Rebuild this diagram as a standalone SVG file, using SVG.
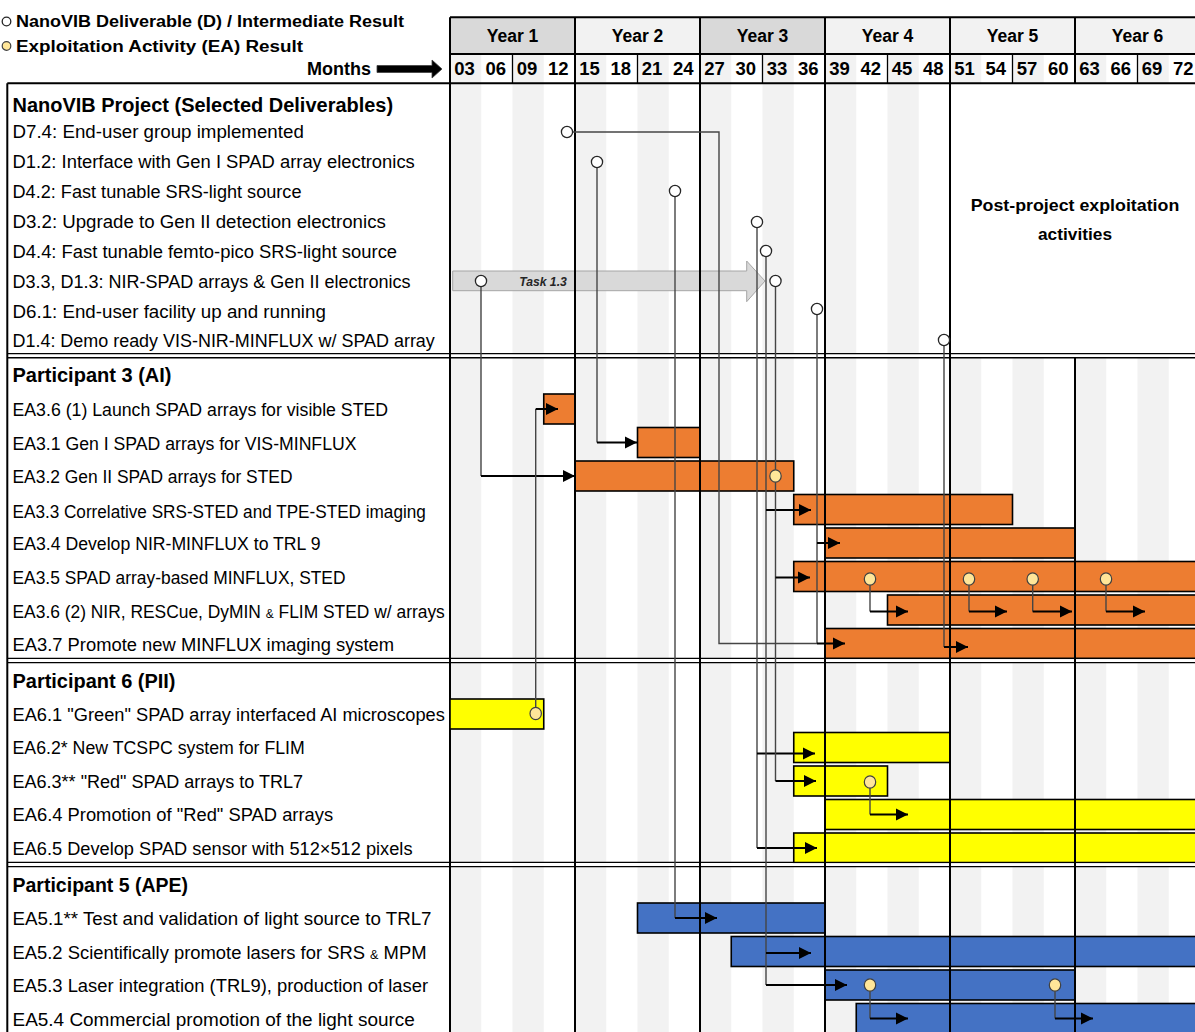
<svg xmlns="http://www.w3.org/2000/svg" width="1195" height="1032" viewBox="0 0 1195 1032">
<defs>
<style>
text{font-family:"Liberation Sans",Arial,sans-serif;fill:#000}
.lbl{font-size:17.5px}
.hdr{font-size:20px;font-weight:bold}
.yr{font-size:17.5px;font-weight:bold;text-anchor:middle}
.mo{font-size:18.5px;font-weight:bold;text-anchor:middle}
.leg{font-size:16px;font-weight:bold}
.pp{font-size:17px;font-weight:bold;text-anchor:middle}
.st{fill:#f2f2f2}
.dk{fill:#d9d9d9}
.grid{stroke:#000;stroke-width:2;fill:none}
.thin{stroke:#000;stroke-width:1.3;fill:none}
.dbl{stroke:#000;stroke-width:1.4;fill:none}
.bar{stroke:#000;stroke-width:1.6}
.or{fill:#ed7d31}
.ye{fill:#ffff00}
.bl{fill:#4472c4}
.cv{stroke:#454545;stroke-width:1.4;fill:none}
.ca{stroke:#000;stroke-width:2;fill:none;marker-end:url(#ah)}
.dc{fill:#fff;stroke:#262626;stroke-width:1.3}
.yc{fill:#ffe699;stroke:#404040;stroke-width:1.2}
.sm{font-size:12px}
</style>
<marker id="ah" markerUnits="userSpaceOnUse" markerWidth="14" markerHeight="14" viewBox="0 0 14 14" refX="12.5" refY="7" orient="auto"><path d="M0.5,1 L12.5,7 L0.5,13 Z" fill="#000"/></marker>
</defs>
<rect x="0" y="0" width="1195" height="1032" fill="#fff"/>

<g id="legend">
<circle class="dc" cx="6.5" cy="21.5" r="4.3"/>
<text class="leg" x="16" y="27.3" textLength="388" lengthAdjust="spacingAndGlyphs">NanoVIB Deliverable (D) / Intermediate Result</text>
<circle class="yc" cx="6.5" cy="46" r="4.3"/>
<text class="leg" x="16" y="51.8" textLength="287" lengthAdjust="spacingAndGlyphs">Exploitation Activity (EA) Result</text>
</g>

<g id="header">
<rect x="450" y="17.3" width="125" height="36.7" class="dk"/>
<rect x="575" y="17.3" width="125" height="36.7" class="st"/>
<rect x="700" y="17.3" width="125" height="36.7" class="dk"/>
<rect x="825" y="17.3" width="125" height="36.7" class="st"/>
<rect x="950" y="17.3" width="125" height="36.7" class="st"/>
<rect x="1075" y="17.3" width="125" height="36.7" class="st"/>
<g class="st">
<rect x="450" y="54" width="31.25" height="29.3"/><rect x="512.5" y="54" width="31.25" height="29.3"/>
<rect x="575" y="54" width="31.25" height="29.3"/><rect x="637.5" y="54" width="31.25" height="29.3"/>
<rect x="700" y="54" width="31.25" height="29.3"/><rect x="762.5" y="54" width="31.25" height="29.3"/>
<rect x="825" y="54" width="31.25" height="29.3"/><rect x="887.5" y="54" width="31.25" height="29.3"/>
<rect x="950" y="54" width="31.25" height="29.3"/><rect x="1012.5" y="54" width="31.25" height="29.3"/>
<rect x="1075" y="54" width="31.25" height="29.3"/><rect x="1137.5" y="54" width="31.25" height="29.3"/>
</g>
<text class="yr" x="512.5" y="41.5">Year 1</text>
<text class="yr" x="637.5" y="41.5">Year 2</text>
<text class="yr" x="762.5" y="41.5">Year 3</text>
<text class="yr" x="887.5" y="41.5">Year 4</text>
<text class="yr" x="1012.5" y="41.5">Year 5</text>
<text class="yr" x="1137.5" y="41.5">Year 6</text>
<text class="mo" x="464.6" y="75">03</text><text class="mo" x="495.8" y="75">06</text>
<text class="mo" x="527.1" y="75">09</text><text class="mo" x="558.3" y="75">12</text>
<text class="mo" x="589.6" y="75">15</text><text class="mo" x="620.8" y="75">18</text>
<text class="mo" x="652.1" y="75">21</text><text class="mo" x="683.3" y="75">24</text>
<text class="mo" x="714.6" y="75">27</text><text class="mo" x="745.8" y="75">30</text>
<text class="mo" x="777.1" y="75">33</text><text class="mo" x="808.3" y="75">36</text>
<text class="mo" x="839.6" y="75">39</text><text class="mo" x="870.8" y="75">42</text>
<text class="mo" x="902.1" y="75">45</text><text class="mo" x="933.3" y="75">48</text>
<text class="mo" x="964.6" y="75">51</text><text class="mo" x="995.8" y="75">54</text>
<text class="mo" x="1027.1" y="75">57</text><text class="mo" x="1058.3" y="75">60</text>
<text class="mo" x="1089.6" y="75">63</text><text class="mo" x="1120.8" y="75">66</text>
<text class="mo" x="1152.1" y="75">69</text><text class="mo" x="1183.3" y="75">72</text>
<text x="371" y="75" style="font-size:17.5px;font-weight:bold;text-anchor:end" textLength="64" lengthAdjust="spacingAndGlyphs">Months</text>
<polygon points="377,65.5 432,65.5 432,60 442,69 432,78 432,72.5 377,72.5" fill="#000" stroke="#404040" stroke-width="0.8"/>
</g>

<g id="stripes" class="st">
<rect x="450" y="83.3" width="31.25" height="948.7"/>
<rect x="512.5" y="83.3" width="31.25" height="948.7"/>
<rect x="575" y="83.3" width="31.25" height="948.7"/>
<rect x="637.5" y="83.3" width="31.25" height="948.7"/>
<rect x="700" y="83.3" width="31.25" height="948.7"/>
<rect x="762.5" y="83.3" width="31.25" height="948.7"/>
<rect x="825" y="83.3" width="31.25" height="948.7"/>
<rect x="887.5" y="83.3" width="31.25" height="948.7"/>
<rect x="950" y="357.8" width="31.25" height="674.2"/>
<rect x="1012.5" y="357.8" width="31.25" height="674.2"/>
<rect x="1075" y="357.8" width="31.25" height="674.2"/>
<rect x="1137.5" y="357.8" width="31.25" height="674.2"/>
</g>

<g id="task-1-3">
<polygon points="452.7,271 746.7,271 746.7,261 765,281 746.7,301.7 746.7,290.7 452.7,290.7" fill="#d9d9d9" stroke="#a6a6a6" stroke-width="1"/>
<text x="543" y="285.5" style="font-size:12.5px;font-weight:bold;font-style:italic;fill:#262626;text-anchor:middle" textLength="47.7" lengthAdjust="spacingAndGlyphs">Task 1.3</text>
</g>

<g id="postproject">
<text class="pp" x="1075" y="211" textLength="208.6" lengthAdjust="spacingAndGlyphs">Post-project exploitation</text>
<text class="pp" x="1075" y="239.5" textLength="74" lengthAdjust="spacingAndGlyphs">activities</text>
</g>

<g id="p3-header"><text class="hdr" x="12.5" y="382" textLength="159" lengthAdjust="spacingAndGlyphs">Participant 3 (AI)</text></g>
<g id="ea3-6a"><rect class="bar or" x="543.75" y="394" width="31.25" height="30"/><text class="lbl" x="12.5" y="416" textLength="375.6" lengthAdjust="spacingAndGlyphs">EA3.6 (1) Launch SPAD arrays for visible STED</text></g>
<g id="ea3-1"><rect class="bar or" x="637.5" y="427.5" width="62.5" height="30"/><text class="lbl" x="12.5" y="450" textLength="344" lengthAdjust="spacingAndGlyphs">EA3.1 Gen I SPAD arrays for VIS-MINFLUX</text></g>
<g id="ea3-2"><rect class="bar or" x="575" y="461" width="218.75" height="30"/><text class="lbl" x="12.5" y="483.3" textLength="280" lengthAdjust="spacingAndGlyphs">EA3.2 Gen II SPAD arrays for STED</text></g>
<g id="ea3-3"><rect class="bar or" x="793.75" y="494.5" width="218.75" height="30"/><text class="lbl" x="12.5" y="517.7" textLength="413.3" lengthAdjust="spacingAndGlyphs">EA3.3 Correlative SRS-STED and TPE-STED imaging</text></g>
<g id="ea3-4"><rect class="bar or" x="825" y="528" width="250" height="30"/><text class="lbl" x="12.5" y="550" textLength="308" lengthAdjust="spacingAndGlyphs">EA3.4 Develop NIR-MINFLUX to TRL 9</text></g>
<g id="ea3-5"><rect class="bar or" x="793.75" y="561.5" width="410" height="30"/><text class="lbl" x="12.5" y="584.3" textLength="333" lengthAdjust="spacingAndGlyphs">EA3.5 SPAD array-based MINFLUX, STED</text></g>
<g id="ea3-6b"><rect class="bar or" x="887.5" y="595" width="320" height="30"/><text class="lbl" x="12.5" y="617.7" textLength="432.3" lengthAdjust="spacingAndGlyphs">EA3.6 (2) NIR, RESCue, DyMIN <tspan class="sm">&amp;</tspan> FLIM STED w/ arrays</text></g>
<g id="ea3-7"><rect class="bar or" x="825" y="628.5" width="380" height="30"/><text class="lbl" x="12.5" y="651" textLength="381.6" lengthAdjust="spacingAndGlyphs">EA3.7 Promote new MINFLUX imaging system</text></g>

<g id="p6-header"><text class="hdr" x="12.5" y="688" textLength="163" lengthAdjust="spacingAndGlyphs">Participant 6 (PII)</text></g>
<g id="ea6-2"><rect class="bar ye" x="793.75" y="732.5" width="156.25" height="30"/><text class="lbl" x="12.5" y="754.3" textLength="292.3" lengthAdjust="spacingAndGlyphs">EA6.2* New TCSPC system for FLIM</text></g>
<g id="ea6-3"><rect class="bar ye" x="793.75" y="766" width="93.75" height="30"/><text class="lbl" x="12.5" y="787.7" textLength="290.6" lengthAdjust="spacingAndGlyphs">EA6.3** "Red" SPAD arrays to TRL7</text></g>
<g id="ea6-4"><rect class="bar ye" x="825" y="799.5" width="380" height="30"/><text class="lbl" x="12.5" y="821" textLength="320.6" lengthAdjust="spacingAndGlyphs">EA6.4 Promotion of "Red" SPAD arrays</text></g>
<g id="ea6-5"><rect class="bar ye" x="793.75" y="833" width="410" height="30"/><text class="lbl" x="12.5" y="855" textLength="400" lengthAdjust="spacingAndGlyphs">EA6.5 Develop SPAD sensor with 512×512 pixels</text></g>

<g id="p5-header"><text class="hdr" x="12.5" y="892" textLength="175.6" lengthAdjust="spacingAndGlyphs">Participant 5 (APE)</text></g>
<g id="ea5-1"><rect class="bar bl" x="637.5" y="903" width="187.5" height="30"/><text class="lbl" x="12.5" y="925.3" textLength="419" lengthAdjust="spacingAndGlyphs">EA5.1** Test and validation of light source to TRL7</text></g>
<g id="ea5-2"><rect class="bar bl" x="731.25" y="936.5" width="470" height="30"/><text class="lbl" x="12.5" y="958.7" textLength="414" lengthAdjust="spacingAndGlyphs">EA5.2 Scientifically promote lasers for SRS <tspan class="sm">&amp;</tspan> MPM</text></g>
<g id="ea5-3"><rect class="bar bl" x="825" y="970" width="250" height="30"/><text class="lbl" x="12.5" y="992" textLength="415.6" lengthAdjust="spacingAndGlyphs">EA5.3 Laser integration (TRL9), production of laser</text></g>
<g id="ea5-4"><rect class="bar bl" x="856.25" y="1003.5" width="345" height="30"/><text class="lbl" x="12.5" y="1026" textLength="402.3" lengthAdjust="spacingAndGlyphs">EA5.4 Commercial promotion of the light source</text></g>

<g id="grid">
<g fill="#fff">
<rect x="7.3" y="354.3" width="1188" height="2.8"/>
<rect x="7.3" y="659.1" width="1188" height="2.8"/>
<rect x="7.3" y="863.1" width="1188" height="2.8"/>
</g>
<path class="grid" d="M450,17.3 H1195 M450,54 H1195 M7.3,83.3 H1195 M7.3,83.3 V1032 M450,17.3 V1032 M575,17.3 V1032 M700,17.3 V1032 M825,17.3 V1032 M950,17.3 V1032 M1075,17.3 V83.3 M1075,357.8 V1032"/>
<path class="thin" d="M512.5,54 V83.3 M637.5,54 V83.3 M762.5,54 V83.3 M887.5,54 V83.3 M1012.5,54 V83.3 M1137.5,54 V83.3"/>
<path class="dbl" d="M7.3,353.6 H1195 M7.3,357.8 H1195 M7.3,658.4 H1195 M7.3,662.6 H1195 M7.3,862.4 H1195 M7.3,866.6 H1195"/>
</g>

<g id="ea6-1"><rect class="bar ye" x="450" y="699" width="93.75" height="30"/><text class="lbl" x="12.5" y="721" textLength="432.3" lengthAdjust="spacingAndGlyphs">EA6.1 "Green" SPAD array interfaced AI microscopes</text></g>

<g id="connectors">
<path class="cv" d="M572.6,132 H719 V643.5 H817"/>
<path class="cv" d="M817,314.6 V643.5"/>
<path class="ca" d="M817,543 H840"/>
<path class="ca" d="M817,643.5 H845"/>
<path class="cv" d="M597,167.6 V442.5"/>
<path class="ca" d="M597,442.5 H637"/>
<path class="cv" d="M675,196.6 V918"/>
<path class="ca" d="M675,918 H717"/>
<path class="cv" d="M481,286.6 V476"/>
<path class="ca" d="M481,476 H575"/>
<path class="cv" d="M757,227.6 V848"/>
<path class="ca" d="M757,753.5 H815"/>
<path class="ca" d="M757,848 H817"/>
<path class="cv" d="M766,256.6 V985"/>
<path class="ca" d="M766,510 H811"/>
<path class="ca" d="M766,953 H811"/>
<path class="ca" d="M766,985 H847"/>
<path class="cv" d="M775.5,286.6 V781"/>
<path class="ca" d="M775.5,577.5 H810"/>
<path class="ca" d="M775.5,781 H816"/>
<path class="cv" d="M944,345.6 V647"/>
<path class="ca" d="M944,647 H968"/>
<path class="cv" d="M535.7,708 V409"/>
<path class="ca" d="M535.7,409 H558"/>
<path class="cv" d="M870,585 V611.5"/>
<path class="ca" d="M870,611.5 H908"/>
<path class="cv" d="M969,585 V611.5"/>
<path class="ca" d="M969,611.5 H1007"/>
<path class="cv" d="M1032.7,585 V611.5"/>
<path class="ca" d="M1032.7,611.5 H1072"/>
<path class="cv" d="M1106,585 V611.5"/>
<path class="ca" d="M1106,611.5 H1145"/>
<path class="cv" d="M870,788 V814.5"/>
<path class="ca" d="M870,814.5 H908"/>
<path class="cv" d="M870,991 V1018.5"/>
<path class="ca" d="M870,1018.5 H908"/>
<path class="cv" d="M1055,991 V1018.5"/>
<path class="ca" d="M1055,1018.5 H1093"/>
</g>

<g id="milestones">
<ellipse class="yc" cx="775.5" cy="476" rx="5.7" ry="6.2"/>
<ellipse class="yc" cx="870" cy="579" rx="5.7" ry="6.2"/>
<ellipse class="yc" cx="969" cy="579" rx="5.7" ry="6.2"/>
<ellipse class="yc" cx="1032.7" cy="579" rx="5.7" ry="6.2"/>
<ellipse class="yc" cx="1106" cy="579" rx="5.7" ry="6.2"/>
<ellipse class="yc" cx="535.7" cy="713.5" rx="5.7" ry="6.2"/>
<ellipse class="yc" cx="870" cy="782" rx="5.7" ry="6.2"/>
<ellipse class="yc" cx="870" cy="985" rx="5.7" ry="6.2"/>
<ellipse class="yc" cx="1055" cy="985" rx="5.7" ry="6.2"/>
</g>

<g id="d-header"><text class="hdr" x="12.5" y="112" textLength="380.6" lengthAdjust="spacingAndGlyphs">NanoVIB Project (Selected Deliverables)</text></g>
<g id="d7-4"><text class="lbl" x="12.5" y="138.3" textLength="291.3" lengthAdjust="spacingAndGlyphs">D7.4: End-user group implemented</text><circle class="dc" cx="567" cy="132" r="5.6"/></g>
<g id="d1-2"><text class="lbl" x="12.5" y="168.3" textLength="402.3" lengthAdjust="spacingAndGlyphs">D1.2: Interface with Gen I SPAD array electronics</text><circle class="dc" cx="597" cy="162" r="5.6"/></g>
<g id="d4-2"><text class="lbl" x="12.5" y="197.7" textLength="289" lengthAdjust="spacingAndGlyphs">D4.2: Fast tunable SRS-light source</text><circle class="dc" cx="675" cy="191" r="5.6"/></g>
<g id="d3-2"><text class="lbl" x="12.5" y="227.7" textLength="373.3" lengthAdjust="spacingAndGlyphs">D3.2: Upgrade to Gen II detection electronics</text><circle class="dc" cx="757" cy="222" r="5.6"/></g>
<g id="d4-4"><text class="lbl" x="12.5" y="257.7" textLength="384.6" lengthAdjust="spacingAndGlyphs">D4.4: Fast tunable femto-pico SRS-light source</text><circle class="dc" cx="766" cy="251" r="5.6"/></g>
<g id="d3-3"><text class="lbl" x="12.5" y="287.7" textLength="398" lengthAdjust="spacingAndGlyphs">D3.3, D1.3: NIR-SPAD arrays &amp; Gen II electronics</text><circle class="dc" cx="481" cy="281" r="5.6"/><circle class="dc" cx="775.5" cy="281" r="5.6"/></g>
<g id="d6-1"><text class="lbl" x="12.5" y="317.7" textLength="313.3" lengthAdjust="spacingAndGlyphs">D6.1: End-user facility up and running</text><circle class="dc" cx="817" cy="309" r="5.6"/></g>
<g id="d1-4"><text class="lbl" x="12.5" y="347" textLength="422.3" lengthAdjust="spacingAndGlyphs">D1.4: Demo ready VIS-NIR-MINFLUX w/ SPAD array</text><circle class="dc" cx="944" cy="340" r="5.6"/></g>
</svg>
